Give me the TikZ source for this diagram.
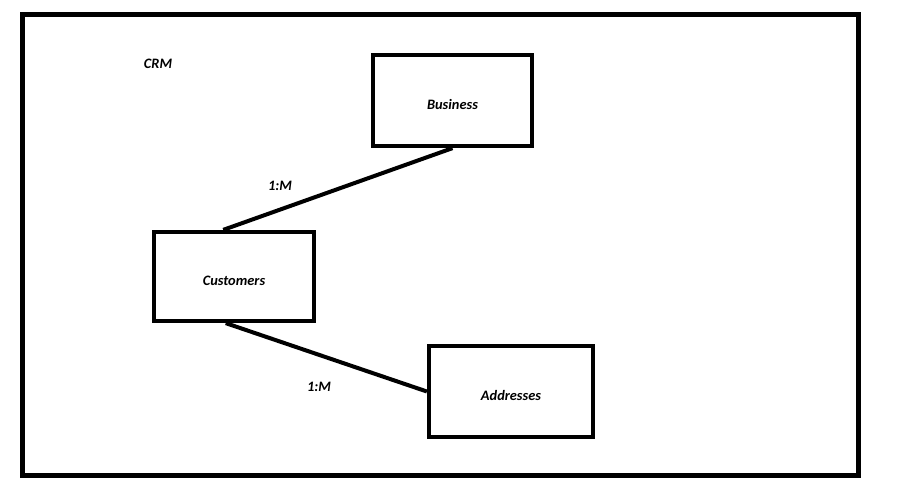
\documentclass[tikz,border=0pt]{standalone}
\usepackage{fontspec}
\setmainfont{Carlito}
\begin{document}
\begin{tikzpicture}
[x=0.75pt,y=-0.75pt,
  boxdecorate/.style={shape=rectangle,draw,line width=3.2pt,inner sep=0pt,text height=13pt,text depth=0pt,font=\bfseries\itshape\fontsize{10.8}{12}\selectfont},%
  linedecorate/.style={-,line width=3pt},%
  labeldecorate/.style={inner sep=0pt,font=\bfseries\itshape\fontsize{10.8}{12}\selectfont}]
\useasboundingbox (0,0) rectangle (921,483);
%% frame
\draw[line width=3.75pt] (22.5,14.5) rectangle (858.5,475.5);
%% boxes
\foreach \nodename/\x/\y/\w/\h in {Business/452.5/100.5/159/91, Customers/234/276.5/160/89, Addresses/511/391.5/164/91} {
  \node (\nodename) at (\x,\y) [boxdecorate,minimum width=\w*0.75pt,minimum height=\h*0.75pt] {\nodename};
}
%% labels
\foreach \nodename/\x/\y/\text in {crm/158/64/CRM, upper/280/186/1:M, lower/319/387/1:M} {
  \node (\nodename) at (\x,\y) [labeldecorate] {\text};
}
%% relations
\path
\foreach \startnode/\endnode in {Business.south/Customers.103, Customers.260/Addresses.west} {
  (\startnode) edge[linedecorate] (\endnode)
};
\end{tikzpicture}
\end{document}
